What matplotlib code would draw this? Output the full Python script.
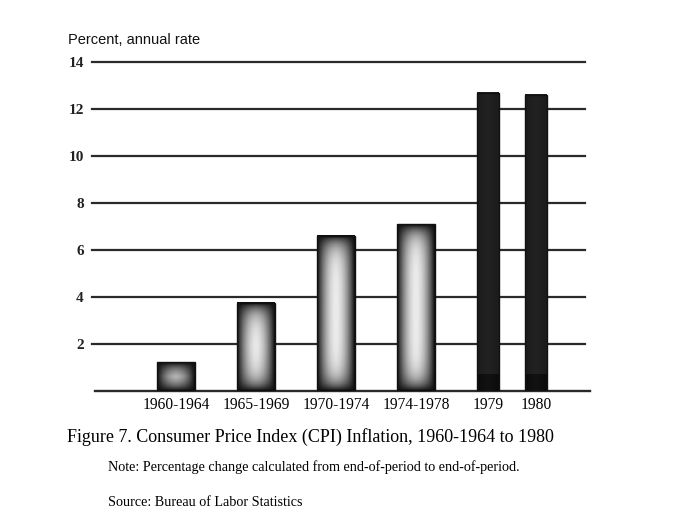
"""
CPI inflation bar chart, 1960-1964 to 1980, with shaded (cylinder-look) bars
"""

import numpy as np
import matplotlib
matplotlib.use("Agg")
import matplotlib.pyplot as plt

# data
periods = ['1960-1964', '1965-1969', '1970-1974', '1974-1978', '1979', '1980']
inflation = [1.23, 3.75, 6.6, 7.1, 12.7, 12.6]
dark_bar = [False, False, False, False, True, True]
y_ticks = [2, 4, 6, 8, 10, 12, 14]

# layout (slot positions and widths, not data)
slots = [0, 1, 2, 3, 3.9, 4.5]
widths = [0.475, 0.475, 0.475, 0.475, 0.27, 0.27]


def shade_bar(ax, bar, dark):
    """fill one bar with a gradient image"""
    x0, w, h = bar.get_x(), bar.get_width(), bar.get_height()
    nx, ny = 60, max(int(h * 25), 10)
    u = np.linspace(-1, 1, nx)
    yy = np.linspace(0, h, ny)
    if dark:
        img = np.full((ny, nx), 28.0)
        img[yy < 0.7, :] = 12.0
        img = img + 6 * (1 - np.abs(u))[None, :]
    else:
        horiz = np.clip(1 - np.abs(u) ** 1.8, 0, 1)
        dist = np.minimum(yy, h - yy)
        vert = 1 - np.exp(-dist / 0.45)
        img = 14 + 222 * vert[:, None] * horiz[None, :]
    ax.imshow(img, cmap='gray', vmin=0, vmax=255, origin='lower',
              extent=(x0, x0 + w, 0, h), aspect='auto',
              interpolation='bilinear', zorder=3)


fig = plt.figure(figsize=(6.97, 5.19), dpi=100)
W, H = 697, 519
ax = fig.add_axes([92 / W, 1 - 391 / H, (590 - 92) / W, (391 - 62) / H])

bars = ax.bar(slots, inflation, width=widths, color='none',
              edgecolor='#111111', linewidth=1.0, zorder=4)
for b, d in zip(bars, dark_bar):
    shade_bar(ax, b, d)

# horizontal rules
for t in y_ticks:
    ax.axhline(t, xmax=0.99, color='#2a2a2a', linewidth=1.6, zorder=1,
               clip_on=False)
ax.axhline(0, xmin=0.006, color='#2a2a2a', linewidth=1.7, zorder=1,
           clip_on=False)

ax.set_xlim(-1.05, 5.175)
ax.set_ylim(0, 14)
ax.set_yticks(y_ticks)
ax.set_yticklabels([str(t) for t in y_ticks], fontfamily='Liberation Serif',
                   fontsize=11, fontweight='bold', color='#222222')
ax.tick_params(axis='y', length=0, pad=6)
ax.set_xticks(slots)
ax.set_xticklabels(periods, fontfamily='Liberation Serif', fontsize=11.2)
ax.tick_params(axis='x', length=0, pad=4)
for s in ax.spines.values():
    s.set_visible(False)

fig.text(68 / W, 1 - 40 / H, 'Percent, annual rate', fontfamily='Liberation Sans',
         fontsize=10.5, va='center', ha='left', color='#111111')
fig.text(67 / W, 1 - 437 / H,
         'Figure 7. Consumer Price Index (CPI) Inflation, 1960-1964 to 1980',
         fontfamily='Liberation Serif', fontsize=13, va='center', ha='left')
fig.text(108 / W, 1 - 467 / H,
         'Note: Percentage change calculated from end-of-period to end-of-period.',
         fontfamily='Liberation Serif', fontsize=10.2, va='center', ha='left')
fig.text(108 / W, 1 - 503 / H, 'Source: Bureau of Labor Statistics',
         fontfamily='Liberation Serif', fontsize=10.2, va='center', ha='left')

fig.savefig('out.png', dpi=100)
